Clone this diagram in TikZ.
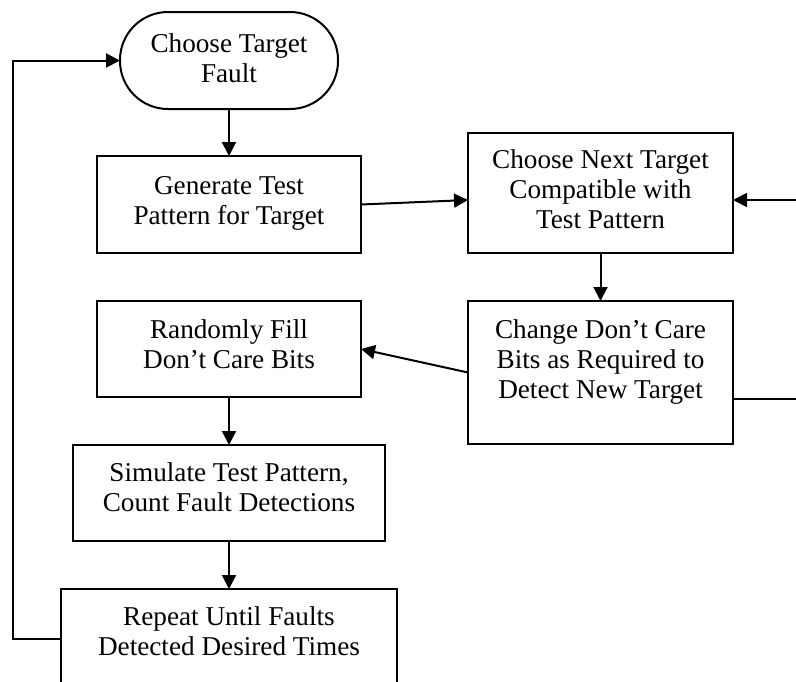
\documentclass[tikz,border=0pt]{standalone}
\usepackage{fontspec}
\setmainfont{Liberation Serif}
\usepackage{tikz}
\usetikzlibrary{arrows.meta}

\tikzset{
  caja/.style={draw, line width=1pt, inner sep=0pt, outer sep=0pt, font=\fontsize{13.6}{15}\selectfont},
  inicio/.style={caja, rounded corners=24pt},
  flecha/.style={line width=1pt, -{Triangle[length=7pt,width=7pt]}},
}
% ancho, alto, espacio arriba, texto
\newcommand{\cajatexto}[4]{\parbox[c][#2pt][t]{#1pt}{\centering\vspace*{#3pt}#4}}

\begin{document}
\begin{tikzpicture}[x=0.5pt,y=-0.5pt]
            % Marco recortado como en la figura
            \useasboundingbox (0,0) rectangle (796,681);
            \clip (0,0) rectangle (796,681);

            % Columna izquierda
            \node[inicio] (elegir) at (229,60.5) {\cajatexto{109}{48.5}{11}{Choose Target\\Fault}};
            \node[caja] (generar) at (229,204.5) {\cajatexto{132}{48.5}{10}{Generate Test\\Pattern for Target}};
            \node[caja] (rellenar) at (229,349) {\cajatexto{132}{48}{9.5}{Randomly Fill\\Don’t Care Bits}};
            \node[caja] (simular) at (229,493) {\cajatexto{156}{48}{9}{Simulate Test Pattern,\\Count Fault Detections}};
            \node[caja] (repetir) at (229,639) {\cajatexto{168}{50}{9}{Repeat Until Faults\\Detected Desired Times}};

            % Columna derecha
            \node[caja] (siguiente) at (600.5,193) {\cajatexto{132.5}{60}{8.5}{Choose Next Target\\Compatible with\\Test Pattern}};
            \node[caja] (cambiar) at (600.5,372.5) {\cajatexto{132.5}{71.5}{9.5}{Change Don’t Care\\Bits as Required to\\Detect New Target}};

            % Puntos de las vueltas
            \coordinate (vueltaIzq) at (13,639);
            \coordinate (vueltaDer) at (830,399);

            % Flechas
            \draw[flecha] (elegir) -- (generar);
            \draw[flecha] (generar.east) -- ([yshift=-3.5pt]siguiente.west);
            \draw[flecha] (siguiente) -- (cambiar);
            \draw[flecha] (cambiar.west) -- (rellenar.east);
            \draw[flecha] (rellenar) -- (simular);
            \draw[flecha] (simular) -- (repetir);
            \draw[flecha] (repetir.west) -- (vueltaIzq) |- (elegir.west);
            \draw[flecha] ([yshift=-13.25pt]cambiar.east) -- (vueltaDer) |- ([yshift=-3.5pt]siguiente.east);
\end{tikzpicture}
\end{document}
